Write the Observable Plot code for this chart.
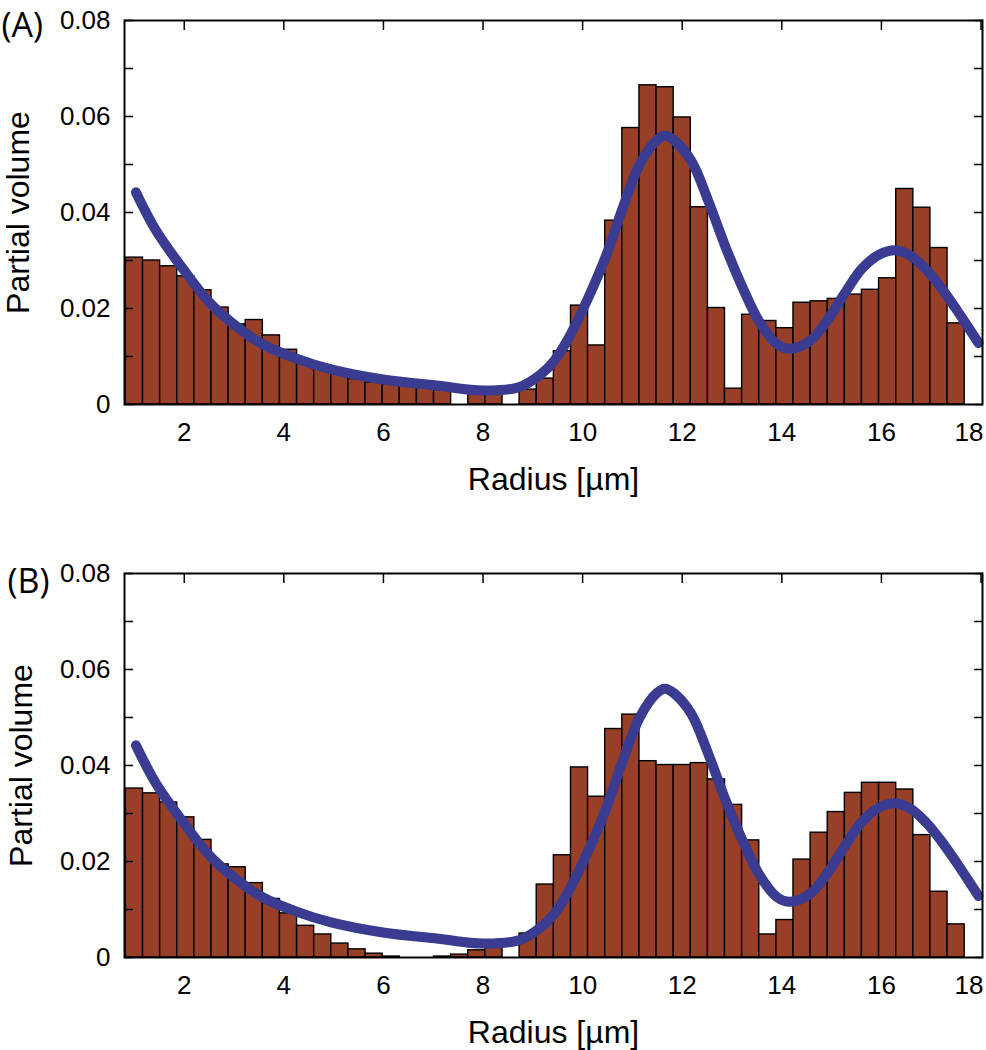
<!DOCTYPE html>
<html><head><meta charset="utf-8">
<script src="https://cdn.jsdelivr.net/npm/d3@7"></script>
<script src="https://cdn.jsdelivr.net/npm/@observablehq/plot@0.6"></script>
<style>body{margin:0;background:#fff} #chart svg{display:block}</style>
</head><body><div id="chart"></div>
<script>
// Histogram bin edges (radius, µm) — 49 bins
const binEdges = [0.828, 1.172, 1.516, 1.859, 2.203, 2.547, 2.891, 3.234, 3.578, 3.922,
  4.266, 4.609, 4.953, 5.297, 5.641, 5.984, 6.328, 6.672, 7.016, 7.359,
  7.703, 8.047, 8.391, 8.734, 9.078, 9.422, 9.766, 10.109, 10.453, 10.797,
  11.141, 11.484, 11.828, 12.172, 12.516, 12.859, 13.203, 13.547, 13.891, 14.234,
  14.578, 14.922, 15.266, 15.609, 15.953, 16.297, 16.641, 16.984, 17.328, 17.672];

// Panel (A) partial volumes
const volumeA = [0.0306, 0.0300, 0.0288, 0.0267, 0.0238, 0.0202, 0.0167, 0.0176, 0.0144, 0.0114,
  0.0090, 0.0075, 0.0062, 0.0053, 0.0046, 0.0042, 0.0047, 0.0040, 0.0030, 0.0000,
  0.0022, 0.0022, 0.0000, 0.0031, 0.0054, 0.0111, 0.0206, 0.0123, 0.0383, 0.0576,
  0.0665, 0.0661, 0.0598, 0.0411, 0.0201, 0.0033, 0.0187, 0.0174, 0.0159, 0.0212,
  0.0215, 0.0220, 0.0229, 0.0239, 0.0263, 0.0449, 0.0410, 0.0326, 0.0169];

// Panel (B) partial volumes
const volumeB = [0.0352, 0.0342, 0.0323, 0.0292, 0.0245, 0.0194, 0.0188, 0.0155, 0.0122, 0.0092,
  0.0066, 0.0048, 0.0029, 0.0017, 0.0008, 0.0002, 0.0000, 0.0000, 0.0002, 0.0006,
  0.0015, 0.0020, 0.0000, 0.0050, 0.0152, 0.0213, 0.0396, 0.0335, 0.0476, 0.0506,
  0.0409, 0.0401, 0.0401, 0.0405, 0.0371, 0.0318, 0.0244, 0.0048, 0.0078, 0.0204,
  0.0260, 0.0303, 0.0343, 0.0364, 0.0364, 0.0350, 0.0255, 0.0137, 0.0069];

// Fitted curve (same in both panels)
const fitRadius = [1.03, 1.43, 2.0, 2.53, 3.07, 3.58, 4.27, 4.95, 5.99, 7.1, 8.0, 8.72, 9.15, 9.42, 9.7,
  10.12, 10.46, 10.80, 11.15, 11.49, 11.65, 11.84, 12.18, 12.52, 12.87, 13.21, 13.55, 13.90, 14.16,
  14.57, 14.91, 15.26, 15.60, 15.95, 16.3, 16.6, 16.9, 17.2, 17.5, 17.75, 17.95];
const fitVolume = [0.0442, 0.0363, 0.0279, 0.0210, 0.0161, 0.0125, 0.0095, 0.0073, 0.0052, 0.0039, 0.0029, 0.0036, 0.0062, 0.0090, 0.0135,
  0.0224, 0.0307, 0.0408, 0.0501, 0.0551, 0.0560, 0.0550, 0.0508, 0.0425, 0.0328, 0.0244, 0.0172, 0.0126, 0.0116,
  0.0133, 0.0175, 0.0231, 0.0282, 0.0312, 0.0321, 0.0309, 0.0281, 0.0243, 0.0199, 0.0160, 0.0128];

const yTicks = [0, 0.01, 0.02, 0.03, 0.04, 0.05, 0.06, 0.07, 0.08];
const yTickLabels = [0, 0.02, 0.04, 0.06, 0.08];
const xTicks = [2, 4, 6, 8, 10, 12, 14, 16, 18];
const xTickLabels = [2, 4, 6, 8, 10, 12, 14, 16];
const xLastTick = [18];
const xTitle = "Radius [µm]";
const yTitle = "Partial volume";

const font = "'Liberation Sans', Arial, Helvetica, sans-serif";

function panel(values, o) {
  const bars = values.map((v, i) => ({x1: binEdges[i], x2: binEdges[i + 1], v}));
  const fit = fitRadius.map((r, i) => ({r, v: fitVolume[i]}));
  return Plot.plot({
    width: 986, height: o.height,
    marginTop: o.marginTop, marginBottom: o.marginBottom, marginLeft: 124, marginRight: 4,
    style: {fontFamily: font, background: "#fff", color: "#000", overflow: "visible"},
    x: {domain: [0.8, 18.03]},
    y: {domain: [0, 0.08]},
    marks: [
      Plot.rectY(bars, {x1: "x1", x2: "x2", y: "v", fill: "#983f27", stroke: "#000", strokeWidth: 1.4}),
      Plot.line(fit, {x: "r", y: "v", stroke: "#3a3c91", strokeWidth: 10, curve: "catmull-rom"}),
      Plot.axisY({anchor: "left", ticks: yTicks, tickSize: 9, dx: 9, tickFormat: () => "", label: null, strokeWidth: 1.5}),
      Plot.axisY({anchor: "right", ticks: yTicks, tickSize: 9, dx: -9, tickFormat: () => "", label: null, strokeWidth: 1.5}),
      Plot.axisX({anchor: "top", ticks: xTicks, tickSize: 9, dy: 9, tickFormat: () => "", label: null, strokeWidth: 1.5}),
      Plot.axisY({anchor: "left", ticks: yTickLabels, tickSize: 0, tickPadding: 14, fontSize: 26,
        tickFormat: d => d === 0 ? "0" : d.toFixed(2), label: null}),
      Plot.axisX({anchor: "bottom", ticks: xTickLabels, tickSize: 0, tickPadding: 18, fontSize: 26, label: null}),
      Plot.axisX({anchor: "bottom", ticks: xLastTick, tickSize: 0, tickPadding: 18, fontSize: 26, dx: -12, label: null}),
      Plot.frame({stroke: "#000", strokeWidth: 2}),
      Plot.text([xTitle], {frameAnchor: "bottom", text: d => d, fontSize: 32, textAnchor: "middle", lineAnchor: "bottom", dy: 85}),
      Plot.text([yTitle], {frameAnchor: "left", text: d => d, fontSize: 32, rotate: -90, textAnchor: "middle", lineAnchor: "bottom", dx: o.titleDx}),
      Plot.text([o.letter], {frameAnchor: "top-left", text: d => d, textAnchor: "start", lineAnchor: "bottom",
        fontSize: 34, fontFamily: "'Open Sans', sans-serif", dx: o.letterDx, dy: o.letterDy})
    ]
  });
}

const chart = document.getElementById("chart");
chart.append(panel(volumeA, {height: 540, marginTop: 20, marginBottom: 136, titleDx: -96, letter: "(A)", letterDx: -123, letterDy: 16}));
chart.append(panel(volumeB, {height: 510, marginTop: 33, marginBottom: 93, titleDx: -93, letter: "(B)", letterDx: -117, letterDy: 19}));
</script>
</body></html>
